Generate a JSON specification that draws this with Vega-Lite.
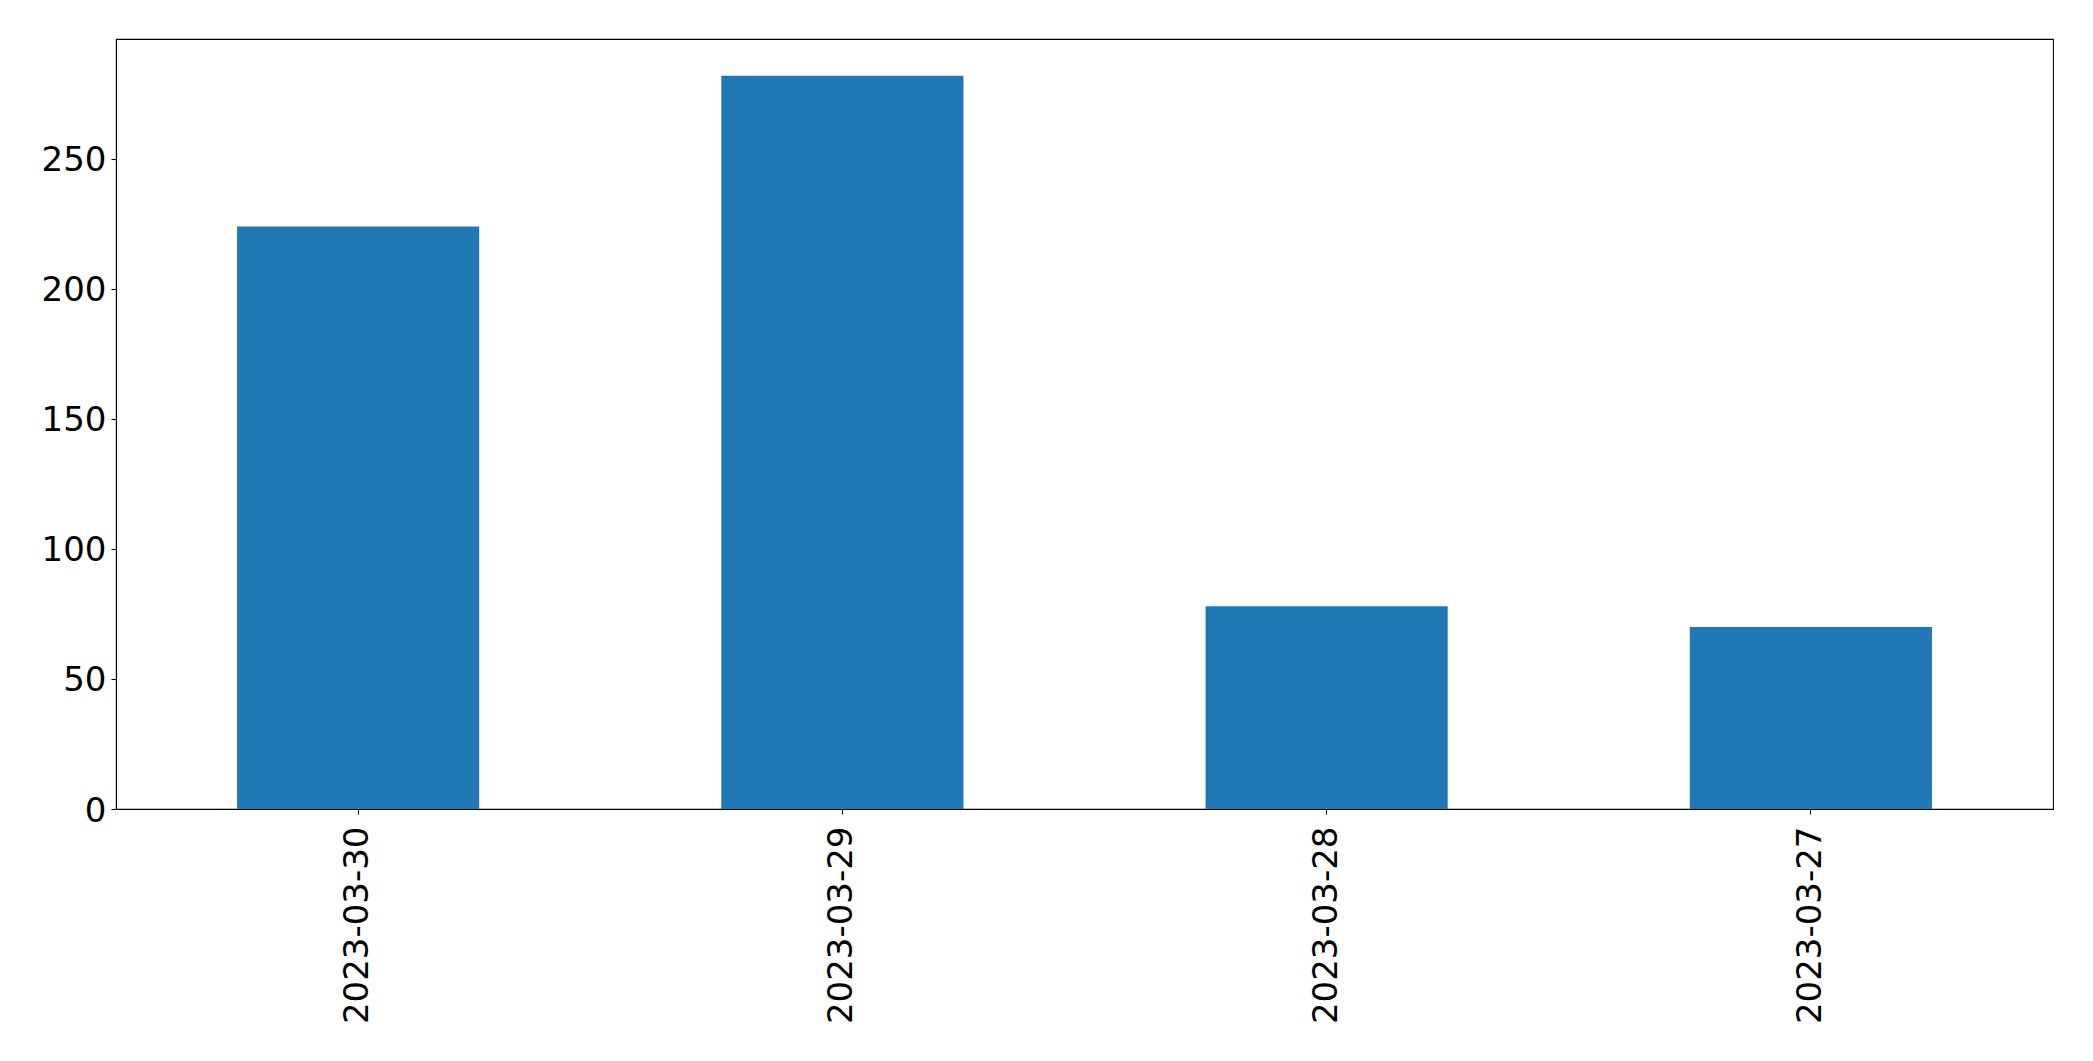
{
  "$schema": "https://vega.github.io/schema/vega-lite/v6.json",
  "width": 1937,
  "height": 770,
  "autosize": "none",
  "padding": {"left": 116, "top": 39, "right": 40, "bottom": 252},
  "background": "white",
  "config": {
    "view": {"stroke": "black", "strokeWidth": 1.1},
    "font": "DejaVu Sans",
    "axis": {
      "labelFont": "DejaVu Sans",
      "labelFontSize": 34,
      "labelColor": "black",
      "labelLimit": 2000,
      "domainColor": "black",
      "domainWidth": 1.1,
      "tickColor": "black",
      "tickWidth": 1.1,
      "tickSize": 5,
      "labelPadding": 4,
      "grid": false,
      "title": null
    }
  },
  "data": {
    "values": [
      {"date": "2023-03-30", "count": 224},
      {"date": "2023-03-29", "count": 282},
      {"date": "2023-03-28", "count": 78},
      {"date": "2023-03-27", "count": 70}
    ]
  },
  "mark": {"type": "bar", "color": "#1f77b4"},
  "encoding": {
    "x": {
      "field": "date",
      "type": "nominal",
      "sort": null,
      "scale": {"paddingInner": 0.5, "paddingOuter": 0.25},
      "axis": {"labelAngle": 270, "title": null, "labelFontSize": 34, "labelLimit": 2000, "labelPadding": 12}
    },
    "y": {
      "field": "count",
      "type": "quantitative",
      "scale": {"domain": [0, 296.1], "nice": false},
      "axis": {"values": [0, 50, 100, 150, 200, 250], "title": null, "labelFontSize": 34, "labelPadding": 5, "labelOffset": 2}
    }
  }
}
